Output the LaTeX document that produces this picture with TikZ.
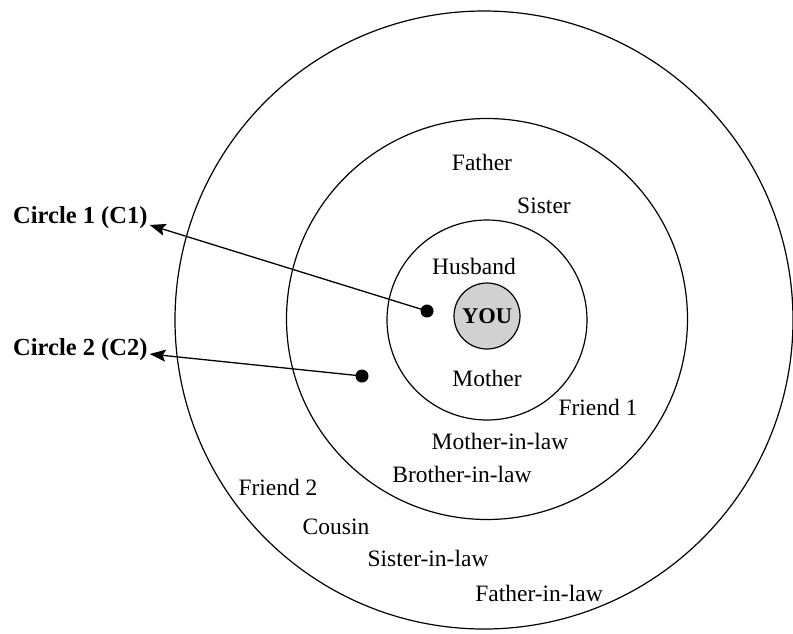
\documentclass[tikz,border=0pt]{standalone}
\usepackage{fontspec}
\setmainfont{Liberation Serif}
\usetikzlibrary{arrows.meta}
\begin{document}
\begin{tikzpicture}[x=1pt,y=-1pt,
  ring/.style={draw,circle,line width=1.2pt,inner sep=0},
  lbl/.style={font=\fontsize{23.5}{26}\selectfont,inner sep=0},
  side/.style={font=\fontsize{24.5}{28}\selectfont\bfseries,inner sep=2pt,anchor=west},
  dotm/.style={circle,fill=black,minimum size=13pt,inner sep=0},
  arr/.style={line width=1.3pt,-{Stealth[length=16pt,width=12pt,inset=3pt]}}]
\useasboundingbox (0,0) rectangle (793,633);
% rings
\node[ring,minimum size=618pt] (outer) at (484,320) {};
\node[ring,minimum size=401pt] (middle) at (487,319) {};
\node[ring,minimum size=200pt] (inner) at (487,320) {};
\node[ring,fill=black!18,minimum size=66pt,font=\fontsize{22.5}{26}\selectfont\bfseries] (you) at (487,316) {YOU};
% side labels
\node[side] (c1) at (11,218) {Circle 1 (C1)};
\node[side] (c2) at (11,350) {Circle 2 (C2)};
% dots
\node[dotm] (d1) at (427,311) {};
\node[dotm] (d2) at (362,376) {};
\draw[arr] (d1.center) -- ([yshift=-7pt]c1.east);
\draw[arr] (d2.center) -- ([yshift=-4pt]c2.east);
% names
\node[lbl] (father) at (482,162) {Father};
\node[lbl] (sister) at (544,206) {Sister};
\node[lbl] (husband) at (474,266) {Husband};
\node[lbl] (mother) at (487,378) {Mother};
\node[lbl] (friend1) at (598,407) {Friend 1};
\node[lbl] (motherinlaw) at (500,441) {Mother-in-law};
\node[lbl] (brotherinlaw) at (462,474) {Brother-in-law};
\node[lbl] (friend2) at (278,487) {Friend 2};
\node[lbl] (cousin) at (336,527) {Cousin};
\node[lbl] (sisterinlaw) at (428,558) {Sister-in-law};
\node[lbl] (fatherinlaw) at (539,593) {Father-in-law};
\end{tikzpicture}
\end{document}
